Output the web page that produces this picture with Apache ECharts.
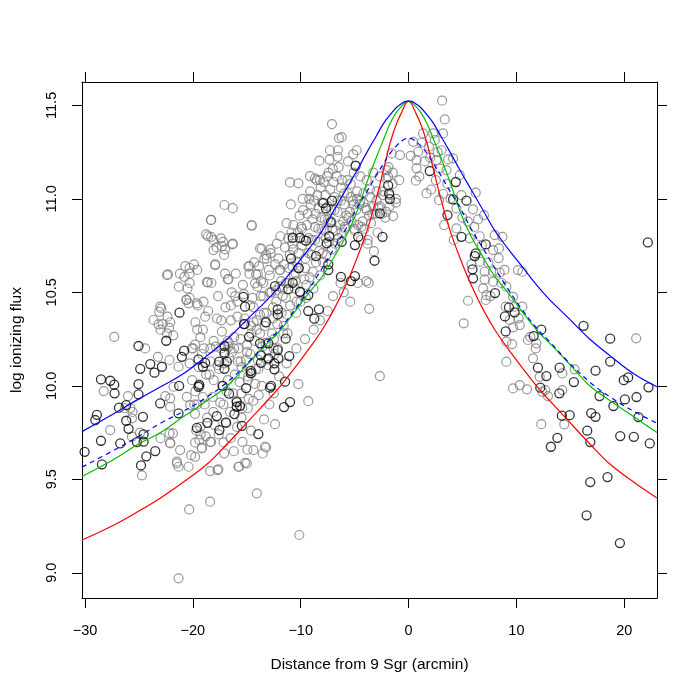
<!DOCTYPE html>
<html>
<head>
<meta charset="utf-8">
<script src="https://cdn.jsdelivr.net/npm/echarts@6/dist/echarts.min.js"></script>
<style>
  html, body { margin: 0; padding: 0; background: #fff; }
  #chart { width: 700px; height: 700px; }
</style>
</head>
<body>
<div id="chart"></div>
<script>
// axis ticks
const xTicks = [-30, -20, -10, 0, 10, 20]
const yTicks = [9.0, 9.5, 10.0, 10.5, 11.0, 11.5]

// model curves
const curveX = [-30.28, -27.5, -25, -23, -21, -18.7, -16.8, -14.7, -13.1, -12, -10.5, -9.2, -8, -6.9, -5.8, -4.8, -3.85, -3, -2.3, -1.7, -1.1, -0.5, -0.25, 0,
  0.25, 0.5, 1.1, 1.7, 2.3, 3, 3.85, 4.8, 5.8, 6.9, 8, 9.2, 10.5, 12, 13.1, 14.7, 16.8, 18.7, 21, 23.04]
const blueY = [9.755, 9.845, 9.93, 9.995, 10.06, 10.16, 10.25, 10.37, 10.46, 10.53, 10.64, 10.735, 10.83, 10.94, 11.05, 11.15, 11.25, 11.335, 11.405, 11.45, 11.49, 11.515, 11.521, 11.523,
  11.521, 11.515, 11.49, 11.45, 11.405, 11.335, 11.25, 11.15, 11.05, 10.94, 10.83, 10.735, 10.64, 10.53, 10.46, 10.37, 10.25, 10.16, 10.06, 9.995]
const dashY = [9.565, 9.65, 9.73, 9.80, 9.86, 9.94, 10.02, 10.135, 10.235, 10.30, 10.41, 10.52, 10.63, 10.735, 10.84, 10.95, 11.04, 11.125, 11.19, 11.245, 11.285, 11.315, 11.322, 11.325,
  11.322, 11.315, 11.285, 11.245, 11.19, 11.125, 11.04, 10.95, 10.84, 10.735, 10.63, 10.52, 10.41, 10.30, 10.235, 10.135, 10.02, 9.94, 9.86, 9.80]
const greenY = [9.515, 9.60, 9.69, 9.75, 9.83, 9.92, 10.0, 10.13, 10.227, 10.29, 10.4, 10.5, 10.585, 10.69, 10.8, 10.93, 11.09, 11.22, 11.32, 11.404, 11.465, 11.505, 11.518, 11.523,
  11.518, 11.505, 11.465, 11.404, 11.32, 11.22, 11.09, 10.93, 10.8, 10.69, 10.585, 10.5, 10.4, 10.29, 10.227, 10.13, 10.0, 9.92, 9.83, 9.75]
const redY = [9.175, 9.25, 9.33, 9.40, 9.48, 9.58, 9.69, 9.82, 9.92, 9.99, 10.1, 10.2, 10.3, 10.41, 10.54, 10.68, 10.83, 11.0, 11.16, 11.3, 11.404, 11.48, 11.512, 11.523,
  11.512, 11.48, 11.404, 11.3, 11.16, 11.0, 10.83, 10.68, 10.54, 10.41, 10.3, 10.2, 10.1, 9.99, 9.92, 9.82, 9.69, 9.58, 9.48, 9.40]

// gray points (x, log flux)
const grayPts = [
  [3.11,11.525],[3.36,11.425],[0.43,11.305],[0.89,11.252],[0.74,11.207],[0.74,11.163],[0.68,11.097],[1.67,11.029],[1.35,11.35],[2.28,11.35],
  [3.2,11.35],[2.44,11.314],[3.06,11.26],[3.67,11.211],[4.13,11.216],[2.59,11.207],[2.9,11.163],[3.52,11.154],[2.53,11.1],[4.75,11.127],
  [3.2,11.026],[2.83,10.993],[6.23,11.033],[4.44,10.949],[5.98,10.944],[6.45,10.89],[3.3,10.86],[4.44,10.842],[4.19,10.78],[5.68,10.789],
  [7.0,10.913],[8.0,10.806],[8.7,10.797],[8.39,10.735],[7.84,10.726],[8.36,10.683],[6.6,10.664],[5.83,10.651],[7.06,10.61],[7.84,10.61],
  [8.45,10.605],[10.15,10.619],[10.55,10.61],[7.06,10.569],[7.84,10.557],[9.07,10.53],[6.91,10.521],[7.22,10.485],[7.16,10.459],[5.52,10.455],
  [5.12,10.334],[9.69,10.476],[9.01,10.423],[9.84,10.423],[10.55,10.423],[9.38,10.352],[10.21,10.361],[9.69,10.313],[10.31,10.325],[9.07,10.236],
  [9.6,10.223],[11.29,10.262],[11.07,10.245],[11.85,10.227],[11.79,10.2],[11.54,10.147],[9.07,10.129],[12.16,10.048],[14.26,10.066],[15.4,10.088],
  [9.69,9.986],[10.31,10.004],[10.98,9.981],[12.69,9.977],[12.93,9.945],[12.41,9.968],[14.26,9.977],[12.31,9.795],[14.44,9.794],[21.11,10.254],
  [0.2,11.23],[1.0,11.12],[1.9,11.28],[1.5,11.2],[2.1,11.05],[3.9,11.0],[5.0,10.9],[6.6,10.8],[7.4,10.66],[8.6,10.55],
  [1.2,11.3],[2.0,11.22],[2.7,11.25],[3.6,11.08],[4.9,11.02],[5.5,10.88],[6.1,10.85],[6.8,10.75],[7.6,10.48],[8.9,10.62],
  [-0.8,11.234],[-1.57,11.243],[-2.04,11.154],[-1.89,11.118],[-1.43,10.908],[-7.1,11.4],[-6.45,11.325],[-6.2,11.33],[-7.29,11.26],[-6.55,11.26],
  [-6.57,11.225],[-4.81,11.26],[-5.13,11.238],[-8.27,11.204],[-10.99,11.088],[-10.22,11.083],[-9.14,11.122],[-8.68,11.11],[-8.21,11.1],[-14.54,10.86],
  [-13.61,10.733],[-14.76,10.64],[-14.14,10.596],[-14.23,10.548],
  [-2.66,10.052],[-3.65,10.412],[-9.3,9.918],[-10.22,10.009],[-12.38,9.795],[-13.4,9.82],[-13.31,9.674],[-14.39,9.656],[-13.52,9.638],[-15.16,9.588],
  [-20.34,9.339],[-18.4,9.38],[-14.07,9.425],[-10.13,9.202],[-21.33,8.97],[-17.72,9.549],[-15.71,9.567],[-20.4,9.567],[-21.48,9.594],[-19.79,9.62],
  [-19.17,9.665],[-17.16,9.697],[-14.94,9.658],[-13.21,9.67],[-22.1,9.692],[-21.85,9.746],
  [-18.3,10.887],[-18.77,10.81],[-18.3,10.797],[-17.4,10.789],[-17.31,10.747],[-18.09,10.726],[-16.33,10.757],[-17.93,10.65],[-16.76,10.569],[-18.7,10.555],
  [-22.31,10.596],[-21.2,10.6],[-20.7,10.64],[-20.3,10.6],[-20.3,10.55],[-20.5,10.52],[-21.3,10.53],[-20.4,10.441],[-19.63,10.441],[-20.6,10.46],
  [-22.93,10.414],[-23.12,10.396],[-23.65,10.352],[-22.35,10.37],[-23.18,10.329],[-21.82,10.27],[-27.29,10.262],[-24.42,10.2],[-23.24,10.155],[-22.17,10.138],
  [-21.33,10.102],[-20.3,10.12],[-20.1,10.2],[-19.8,10.22],[-19.6,10.3],[-19.3,10.26],[-28.27,9.972],[-26.02,9.945],[-25.8,9.881],[-26.3,9.88],
  [-25.6,9.86],[-22.56,9.945],[-22.1,9.933],[-21.79,9.995],[-22.1,9.888],[-20.56,9.941],[-20.25,9.897],[-19.8,9.85],[-19.6,9.9],[-18.9,9.9],
  [-19.3,9.78],[-18.8,9.73],[-19.4,9.71],[-18.4,9.7],[-27.66,9.763],[-25.65,9.826],[-25.65,9.728],[-24.9,9.75],[-22.1,9.696],[-22.17,9.746],
  [-23.0,9.72],[-19.79,9.696],[-19.17,9.669],[-21.18,9.656],[-20.16,9.629],[-21.48,9.585],[-21.33,9.567],[-24.72,9.521],[-18.4,9.544],[-17.63,9.553],
  [-17.1,9.639],[-15.78,9.567],[-15.0,9.585],
  [-17.07,10.967],[-18.33,10.887],[-14.54,10.856],[-18.6,10.8],[-18.1,10.78],[-17.2,10.77],[-17.1,10.7],[-17.8,10.74],[-17.0,10.73],[-16.3,10.76],
  [-13.77,10.735],[-13.15,10.68],[-13.2,10.7],[-14.85,10.637],[-13.98,10.598],[-16.7,10.571],[-17.93,10.646],[-20.3,10.63],[-19.9,10.65],[-19.6,10.62],
  [-20.78,10.583],[-22.4,10.592],[-18.61,10.553],[-20.6,10.46],[-20.3,10.47],[-23.03,10.423],[-22.8,10.33],[-22.1,10.34],[-22.2,10.31],[-23.0,10.3],
  [-22.4,10.28],[-16.3,10.95],
  [-6.3,10.55],[-6.0,10.5],[-4.7,10.55],[-3.9,10.56],[-3.7,10.55],[-5.4,10.45],[-7.5,10.4],[-8.2,10.35],[-8.8,10.3],[-9.6,10.25],
  [-10.4,10.2],[-11.3,10.12],[-12.0,10.05],[-7.0,10.48],
  [-14.9,9.88],[-14.4,9.92],[-13.9,9.95],[-12.9,9.9],[-12.5,9.96],[-15.5,9.83],[-15.9,9.78],[-16.5,9.72],[-14.6,9.76],[-15.4,9.7],
  [-16.2,9.65],[-17.6,9.74],[-16.9,9.8],[-18.1,9.86],
  [-19.77,10.34],[-20.07,10.03],[-19.86,9.9],[-19.98,10.2],
  [-19.47,10.1],[-19.77,9.97],[-19.56,10.43],[-19.68,9.76],
  [-19.07,10.3],[-19.37,10.0],[-19.16,10.17],[-19.28,9.74],[-19.01,10.45],
  [-18.77,10.06],[-19.07,9.94],[-18.86,10.37],[-18.98,10.2],
  [-18.37,10.2],[-18.67,9.83],[-18.46,10.06],[-18.58,10.4],[-18.31,9.7],
  [-18.07,10.24],[-18.37,10.13],[-18.16,9.94],[-18.28,10.55],
  [-17.77,10.36],[-18.07,10.03],[-17.86,10.21],[-17.98,9.79],[-17.71,10.11],
  [-17.37,10.2],[-17.67,10.48],[-17.46,9.91],[-17.58,10.09],[-17.31,10.29],
  [-17.07,10.17],[-17.37,10.35],[-17.16,9.9],[-17.28,10.0],[-17.01,10.6],
  [-16.77,10.24],[-17.07,10.12],[-16.86,9.97],[-16.98,10.42],[-16.71,10.21],
  [-16.47,10.35],[-16.77,10.03],[-16.56,9.86],[-16.68,10.23],[-16.41,10.5],[-16.62,10.15],
  [-16.17,10.26],[-16.47,10.43],[-16.26,9.96],[-16.38,10.18],[-16.11,10.06],
  [-15.87,10.37],[-16.17,10.2],[-15.96,9.92],[-16.08,10.48],[-15.81,10.13],[-16.02,10.6],
  [-15.57,10.25],[-15.87,10.45],[-15.66,10.02],[-15.78,10.2],[-15.51,9.96],
  [-15.27,10.33],[-15.57,10.13],[-15.36,10.54],[-15.48,10.1],[-15.21,10.36],[-15.42,9.88],
  [-14.97,10.22],[-15.27,10.49],[-15.06,10.14],[-15.18,10.33],[-14.91,10.03],
  [-14.67,10.43],[-14.97,10.18],[-14.76,10.6],[-14.88,10.05],[-14.61,10.32],[-14.82,9.93],
  [-14.37,10.34],[-14.67,10.17],[-14.46,10.47],[-14.58,10.28],[-14.31,10.66],[-14.52,10.07],
  [-14.07,10.35],[-14.37,10.42],[-14.16,10.09],[-14.28,10.24],[-14.01,10.53],[-14.22,10.01],
  [-13.77,10.38],[-14.07,10.3],[-13.86,10.64],[-13.98,10.14],[-13.71,10.48],[-13.92,10.09],
  [-13.47,10.48],[-13.77,10.28],[-13.56,10.21],[-13.68,10.56],[-13.41,10.39],[-13.62,10.0],
  [-13.17,10.39],[-13.47,10.55],[-13.26,10.23],[-13.38,10.68],[-13.11,10.14],[-13.32,10.32],
  [-12.87,10.5],[-13.17,10.34],[-12.96,10.62],[-13.08,10.19],[-12.81,10.73],[-13.02,10.11],
  [-12.57,10.42],[-12.87,10.59],[-12.66,10.28],[-12.78,10.71],[-12.51,10.2],[-12.72,10.5],
  [-12.27,10.51],[-12.57,10.36],[-12.36,10.65],[-12.48,10.25],[-12.21,10.76],[-12.42,10.17],
  [-11.97,10.53],[-12.27,10.45],[-12.06,10.68],[-12.18,10.33],[-11.91,10.62],[-12.12,10.2],
  [-11.67,10.52],[-11.97,10.62],[-11.76,10.39],[-11.88,10.8],[-11.61,10.28],[-11.82,10.56],
  [-11.37,10.55],[-11.67,10.48],[-11.46,10.74],[-11.58,10.32],[-11.31,10.87],[-11.52,10.65],
  [-11.07,10.63],[-11.37,10.47],[-11.16,10.79],[-11.28,10.38],[-11.01,10.7],[-11.22,10.28],
  [-10.77,10.64],[-11.07,10.55],[-10.86,10.82],[-10.98,10.43],[-10.71,10.73],[-10.92,10.97],
  [-10.47,10.6],[-10.77,10.76],[-10.56,10.52],[-10.68,10.86],[-10.41,10.39],[-10.62,10.59],
  [-10.17,10.71],[-10.47,10.56],[-10.26,10.82],[-10.38,10.45],[-10.11,10.91],[-10.32,10.66],
  [-9.87,10.75],[-10.17,10.63],[-9.96,10.85],[-10.08,10.5],[-9.81,11.0],[-10.02,10.45],
  [-9.57,10.68],[-9.87,10.84],[-9.66,10.57],[-9.78,10.94],[-9.51,10.47],[-9.72,10.78],
  [-9.27,10.79],[-9.57,10.63],[-9.36,10.92],[-9.48,10.54],[-9.21,11.0],[-9.42,10.86],
  [-8.97,10.78],[-9.27,10.71],[-9.06,10.97],[-9.18,10.58],[-8.91,10.89],[-9.12,11.04],
  [-8.67,10.85],[-8.97,10.7],[-8.76,10.99],[-8.88,10.61],[-8.61,10.92],[-8.82,10.52],
  [-8.37,10.84],[-8.67,10.78],[-8.46,11.02],[-8.58,10.66],[-8.31,10.95],[-8.52,11.1],
  [-8.07,10.9],[-8.37,10.77],[-8.16,11.06],[-8.28,10.72],[-8.01,10.98],[-8.22,10.59],
  [-7.77,10.89],[-8.07,10.84],[-7.86,11.09],[-7.98,10.71],[-7.71,11.02],[-7.92,10.66],
  [-7.47,10.96],[-7.77,10.83],[-7.56,11.12],[-7.68,10.79],[-7.41,11.14],[-7.62,10.7],
  [-7.17,10.94],[-7.47,10.89],[-7.26,11.05],[-7.38,10.77],[-7.11,10.73],[-7.32,11.21],
  [-6.87,11.01],[-7.17,10.88],[-6.96,11.09],[-7.08,10.84],[-6.81,10.76],[-7.02,11.16],
  [-6.57,10.99],[-6.87,10.94],[-6.66,11.12],[-6.78,10.83],[-6.51,10.79],
  [-6.27,11.06],[-6.57,10.93],[-6.36,10.86],[-6.48,11.17],[-6.21,10.82],
  [-5.97,11.03],[-6.27,10.99],[-6.06,10.88],[-6.18,11.1],[-5.91,10.85],
  [-5.67,11.1],[-5.97,10.97],[-5.76,10.91],[-5.88,10.84],[-5.61,11.2],
  [-5.37,11.08],[-5.67,11.03],[-5.46,10.93],[-5.58,10.9],
  [-5.07,11.14],[-5.37,11.01],[-5.16,10.99],[-5.28,10.88],[-5.01,10.84],
  [-4.77,11.04],[-5.07,10.97],[-4.86,10.94],[-4.98,10.83],
  [-4.47,11.12],[-4.77,11.0],[-4.56,10.97],[-4.68,10.86],[-4.41,10.78],
  [-4.17,11.03],[-4.47,10.99],[-4.26,10.88],[-4.38,10.85],
  [-3.87,11.1],[-4.17,10.98],[-3.96,10.95],[-4.08,10.84],[-3.81,10.76],
  [-3.57,11.01],[-3.87,10.94],[-3.66,10.91],[-3.78,10.78],
  [-3.27,11.14],[-3.57,11.05],[-3.36,10.92],[-3.48,10.87],[-3.21,10.72],
  [-2.97,11.04],[-3.27,10.96],[-3.06,10.92],
  [-2.67,11.12],[-2.97,10.99],[-2.76,10.95],[-2.88,10.82],
  [-2.37,11.04],[-2.67,10.96],[-2.46,10.92],
  [-2.07,11.11],[-2.37,11.02],[-2.16,10.9],
  [-1.77,11.02],[-2.07,10.93],[-1.86,11.17],
  [-1.47,11.08],[-1.77,10.96],
  [-1.17,11.0],[-1.47,11.14],
  [-0.87,11.1],[-1.17,10.98]
]

// black points (x, log flux)
const blackPts = [
  [1.97,11.149],[4.38,11.09],[4.13,10.997],[5.37,10.99],[3.61,10.913],[4.91,10.797],[7.16,10.756],[6.23,10.708],[6.14,10.694],[5.93,10.623],
  [5.98,10.575],[8.02,10.496],[9.31,10.42],[9.84,10.393],[8.94,10.371],[9.01,10.291],[12.31,10.3],[11.6,10.266],[16.23,10.321],[18.7,10.252],
  [22.19,10.767],[12.0,10.097],[12.78,10.052],[12.22,9.99],[14.01,10.097],[17.34,10.081],[18.7,10.129],[15.33,10.02],[13.98,9.96],[19.96,10.03],
  [20.37,10.045],[22.25,9.992],[17.71,9.945],[19.0,9.892],[20.06,9.927],[21.14,9.94],[21.32,9.833],[14.22,9.84],[14.94,9.843],[16.94,9.854],
  [17.34,9.834],[16.57,9.76],[16.85,9.699],[13.8,9.722],[13.2,9.674],[19.63,9.731],[20.89,9.727],[22.37,9.692],[16.85,9.485],[18.45,9.512],
  [16.51,9.307],[19.6,9.159],
  [-4.91,11.177],[-1.89,11.072],[-1.8,11.029],[-1.73,10.999],[-2.66,10.922],[-2.41,10.797],[-7.1,10.99],[-7.9,10.977],[-7.66,10.949],[-7.22,10.874],
  [-7.35,10.8],[-7.59,10.762],[-4.67,10.797],[-4.97,10.753],[-6.2,10.77],[-3.15,10.669],[-10.74,10.792],[-10.06,10.792],[-9.51,10.776],[-8.58,10.694],
  [-10.9,10.68],[-10.19,10.63],[-7.44,10.65],[-7.44,10.619],[-6.27,10.583],[-4.97,10.587],[-5.34,10.56],[-12.38,10.533],[-10.74,10.551],
  [-11.15,10.517],[-10.06,10.503],[-9.3,10.485],[-8.31,10.409],[-9.3,10.4],[-8.74,10.359],[-12.13,10.409],[-12.13,10.382],[-13.24,10.339],[-15.31,10.476],
  [-15.16,10.423],[-15.25,10.33],[-14.79,10.262],[-11.39,10.252],[-13.77,10.227],[-13.0,10.227],[-12.13,10.191],[-11.06,10.159],[-13.68,10.163],[-12.07,10.147],
  [-13.0,10.147],[-13.68,10.123],[-12.44,10.12],[-12.44,10.088],[-14.63,10.08],[-14.63,10.067],[-11.45,10.022],[-12.75,10.0],[-12.84,9.99],[-15.06,9.988],
  [-10.99,9.913],[-11.55,9.886],[-15.62,9.893],[-15.46,9.786],[-13.93,9.742],
  [-21.24,10.391],[-22.47,10.241],[-25.04,10.213],[-20.81,10.188],[-21.02,10.155],[-17.07,10.213],[-17.07,10.177],[-19.48,10.141],[-18.86,10.123],[-17.56,10.129],
  [-16.85,10.129],[-24.88,10.091],[-23.95,10.116],[-23.56,10.07],[-22.87,10.102],[-28.52,10.034],[-27.66,10.027],[-27.29,10.006],[-27.26,9.96],[-25.04,10.009],
  [-25.04,9.954],[-21.27,10.0],[-19.42,10.006],[-19.48,9.995],[-17.22,10.0],[-16.64,9.958],[-15.93,9.913],[-15.93,9.888],[-16.15,9.849],[-26.85,9.883],
  [-26.18,9.897],[-23.03,9.906],[-28.9,9.844],[-29.05,9.817],[-26.18,9.813],[-24.63,9.834],[-21.33,9.853],[-18.65,9.802],[-17.78,9.838],[-16.94,9.804],
  [-17.54,9.763],[-19.63,9.775],[-25.96,9.77],[-28.52,9.706],[-26.73,9.692],[-25.19,9.699],[-24.57,9.74],[-24.57,9.701],[-23.49,9.651],[-24.32,9.623],
  [-24.81,9.574],[-28.43,9.58],[-30.04,9.647],[-19.07,10.102],[-17.07,10.091]
]

const FONT = '"Liberation Sans", Arial, sans-serif'
const chart = echarts.init(document.getElementById('chart'))
const pair = ys => curveX.map((x, i) => [x, ys[i]])
const fmtX = v => (v < 0 ? '\u2212' + Math.abs(v) : String(v))

const baseX = {
  type: 'value',
  min: -30.28,
  max: 23.04,
  splitLine: { show: false },
  axisLine: { onZero: false, lineStyle: { color: '#000', width: 1 } },
  axisTick: { length: 10, customValues: xTicks, lineStyle: { color: '#000' } }
}
const baseY = {
  type: 'value',
  min: 8.865,
  max: 11.625,
  splitLine: { show: false },
  axisLine: { onZero: false, lineStyle: { color: '#000', width: 1 } },
  axisTick: { length: 10, customValues: yTicks, lineStyle: { color: '#000' } }
}

const option = {
  animation: false,
  grid: { left: 82, right: 43, top: 82, bottom: 102 },
  xAxis: [
    Object.assign({}, baseX, {
      position: 'bottom',
      name: 'Distance from 9 Sgr (arcmin)',
      nameLocation: 'middle',
      nameGap: 59,
      nameTextStyle: { color: '#000', fontSize: 15.5, fontFamily: FONT },
      axisLabel: { customValues: xTicks, formatter: fmtX, margin: 25, color: '#000', fontSize: 14.5, fontFamily: FONT }
    }),
    Object.assign({}, baseX, { position: 'top', axisLabel: { show: false } })
  ],
  yAxis: [
    Object.assign({}, baseY, {
      position: 'left',
      name: 'log ionizing flux',
      nameLocation: 'middle',
      nameGap: 57,
      nameRotate: 90,
      nameTextStyle: { color: '#000', fontSize: 15.5, fontFamily: FONT },
      axisLabel: { customValues: yTicks, rotate: 90, margin: 23, formatter: v => v.toFixed(1), color: '#000', fontSize: 14.5, fontFamily: FONT }
    }),
    Object.assign({}, baseY, { position: 'right', axisLabel: { show: false } })
  ],
  series: [
    {
      type: 'scatter',
      data: grayPts,
      symbol: 'circle',
      symbolSize: 9,
      itemStyle: { color: 'rgba(0,0,0,0)', borderColor: '#808080', borderWidth: 1.2 }
    },
    {
      type: 'scatter',
      data: blackPts,
      symbol: 'circle',
      symbolSize: 9,
      itemStyle: { color: 'rgba(0,0,0,0)', borderColor: '#000', borderWidth: 1.3 }
    },
    { type: 'line', data: pair(redY), smooth: 0.4, showSymbol: false, lineStyle: { color: '#ff0000', width: 1.2 } },
    { type: 'line', data: pair(greenY), smooth: 0.4, showSymbol: false, lineStyle: { color: '#00c000', width: 1.2 } },
    { type: 'line', data: pair(dashY), smooth: 0.4, showSymbol: false, lineStyle: { color: '#0000ff', width: 1.2, type: [5, 4] } },
    { type: 'line', data: pair(blueY), smooth: 0.4, showSymbol: false, lineStyle: { color: '#0000ff', width: 1.2 } }
  ]
}
chart.setOption(option)
</script>
</body>
</html>
